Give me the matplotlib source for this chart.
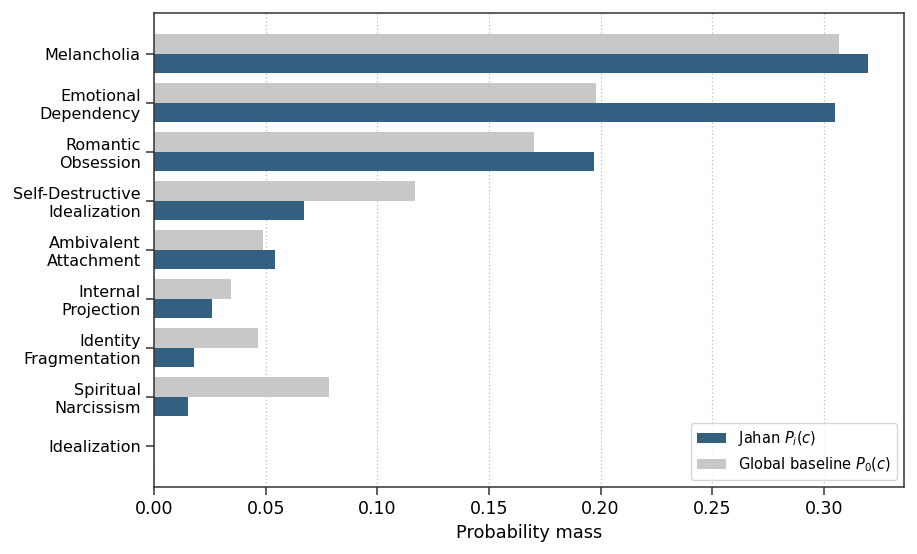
import matplotlib
matplotlib.use("Agg")
import matplotlib.pyplot as plt
import numpy as np

categories = ["Melancholia", "Emotional\nDependency", "Romantic\nObsession",
              "Self-Destructive\nIdealization", "Ambivalent\nAttachment",
              "Internal\nProjection", "Identity\nFragmentation",
              "Spiritual\nNarcissism", "Idealization"]
jahan    = [0.320, 0.305, 0.197, 0.067, 0.054, 0.026, 0.018, 0.015, 0.0]
baseline = [0.307, 0.198, 0.170, 0.117, 0.049, 0.0345, 0.0465, 0.0785, 0.0]

BLUE = "#336080"
GREY = "#c8c8c8"

fig, ax = plt.subplots(figsize=(9.17, 5.54), dpi=100)
fig.subplots_adjust(left=0.168, right=0.986, top=0.977, bottom=0.121)

y = np.arange(len(categories))
h = 0.4
ax.barh(y + h / 2, jahan, height=h, color=BLUE, linewidth=0,
        label="Jahan $P_i(c)$", zorder=3)
ax.barh(y - h / 2, baseline, height=h, color=GREY, linewidth=0,
        label="Global baseline $P_0(c)$", zorder=3)

ax.set_yticks(y)
ax.set_yticklabels(categories, fontsize=11.5)
ax.invert_yaxis()
ax.set_xlim(left=0)
ax.set_xlabel("Probability mass", fontsize=12.8)
ax.tick_params(axis="x", labelsize=12.5, length=6, width=1.1, color="#333333")
ax.tick_params(axis="y", length=6, width=1.1, color="#333333")
ax.grid(axis="x", linestyle=(0, (1, 2)), color="#bbbbbb", linewidth=0.9, zorder=0)
ax.set_axisbelow(True)
for s in ax.spines.values():
    s.set_color("#333333")
    s.set_linewidth(1.1)
    s.set_zorder(4)

ax.legend(loc="lower right", fontsize=10.5, frameon=True, edgecolor="#cccccc")

plt.savefig("out.png", dpi=100)
